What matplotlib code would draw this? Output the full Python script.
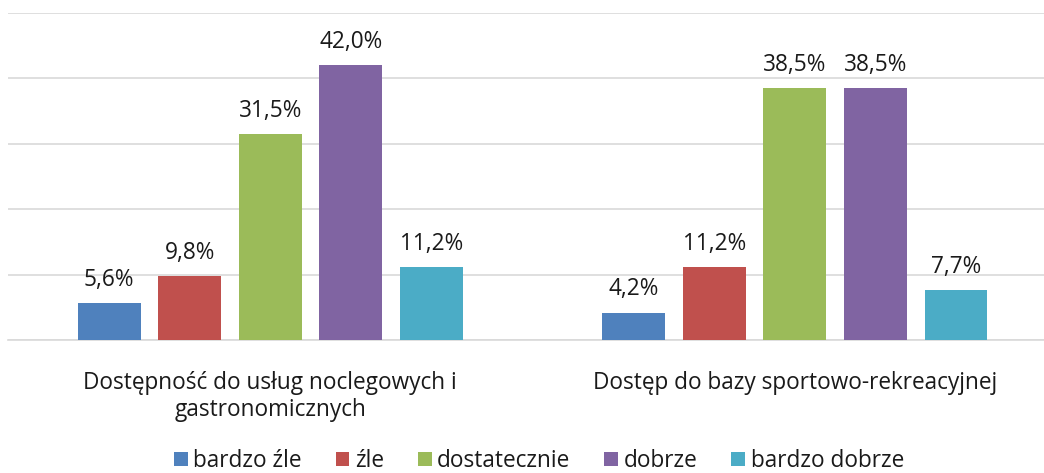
import matplotlib
matplotlib.use("Agg")
import matplotlib.pyplot as plt
import numpy as np

categories = ["Dostępność do usług noclegowych i\ngastronomicznych",
              "Dostęp do bazy sportowo-rekreacyjnej"]
series = ["bardzo źle", "źle", "dostatecznie", "dobrze", "bardzo dobrze"]
values = [
    [5.6, 4.2],
    [9.8, 11.2],
    [31.5, 38.5],
    [42.0, 38.5],
    [11.2, 7.7],
]
colors = ["#4f81bd", "#c0504d", "#9bbb59", "#8064a2", "#4bacc6"]

plt.rcParams["font.family"] = ["Open Sans", "DejaVu Sans"]

fig = plt.figure(figsize=(10.44, 4.73), dpi=100)
ax = fig.add_axes([8 / 1044, 1 - 340 / 473, 1 - 8 / 1044, (340 - 13) / 473])

x = np.arange(len(categories))
width = 0.12
step = 0.1535
for i, (name, vals, c) in enumerate(zip(series, values, colors)):
    pos = x + (i - 2) * step
    bars = ax.bar(pos, vals, width, color=c, label=name, zorder=3)
    for b, v in zip(bars, vals):
        ax.annotate(f"{v:.1f}%".replace(".", ","), (b.get_x() + b.get_width() / 2, v),
                    xytext=(0, 8), textcoords="offset points",
                    ha="center", va="bottom", fontsize=16.3, color="#1a1a1a")

ax.set_ylim(0, 50)
ax.set_xlim(-0.5, 1 + (1044 - 795) / 524.5)
ax.set_yticks(np.arange(0, 51, 10))
ax.yaxis.grid(True, color="#d9d9d9", lw=1.2, zorder=0)
ax.tick_params(left=False, labelleft=False, bottom=False)
ax.set_xticks(x)
ax.set_xticklabels(categories, fontsize=16.3, color="#1a1a1a", linespacing=1.15)
ax.tick_params(axis="x", pad=19)
for s in ["top", "right", "left"]:
    ax.spines[s].set_visible(False)
ax.spines["bottom"].set_color("#d9d9d9")
ax.spines["bottom"].set_linewidth(1.2)

fig.legend(loc="center", bbox_to_anchor=(539 / 1044, 1 - 461 / 473), ncol=5,
           frameon=False, fontsize=16.3, handlelength=0.6, handleheight=0.6,
           handletextpad=0.25, columnspacing=1.5, labelcolor="#1a1a1a")

fig.savefig("out.png", dpi=100)
